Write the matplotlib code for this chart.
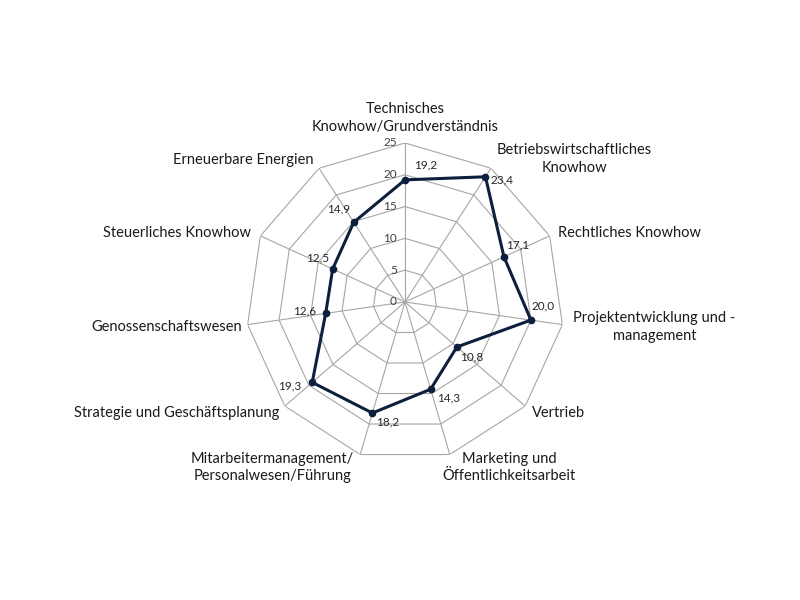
import numpy as np
import matplotlib.pyplot as plt

plt.rcParams['font.family'] = ['Lato', 'DejaVu Sans']

categories = ['Technisches\nKnowhow/Grundverständnis',
              'Betriebswirtschaftliches\nKnowhow',
              'Rechtliches Knowhow',
              'Projektentwicklung und -\nmanagement',
              'Vertrieb',
              'Marketing und\nÖffentlichkeitsarbeit',
              'Mitarbeitermanagement/\nPersonalwesen/Führung',
              'Strategie und Geschäftsplanung',
              'Genossenschaftswesen',
              'Steuerliches Knowhow',
              'Erneuerbare Energien']
values = [19.2, 23.4, 17.1, 20.0, 10.8, 14.3, 18.2, 19.3, 12.6, 12.5, 14.9]
ticks = [0, 5, 10, 15, 20, 25]

# label placement (offset in pixels from outer vertex / data point)
cat_offsets = [(0, 9), (6, 9), (8, 3), (11, -2), (7, -7), (-7, 3),
               (-6, 3), (-5, -7), (-6, -2), (-9, 3), (-6, 8)]
cat_ha = ['center', 'left', 'left', 'left', 'left', 'left',
          'right', 'right', 'right', 'right', 'right']
cat_va = ['bottom', 'center', 'center', 'center', 'center', 'top',
          'top', 'center', 'center', 'center', 'center']
val_offsets = [(9, 15), (5, -3), (2, 12), (1, 14), (3, -10), (6, -9),
               (4, -9), (-11, -4), (-9, 2), (-3, 11), (-4, 13)]
val_ha = ['left'] * 7 + ['right'] * 4

n = len(categories)
theta = np.arange(n) * 2 * np.pi / n

fig = plt.figure(figsize=(8, 6), dpi=100)
ax = fig.add_axes([0.50625 - 0.19875, 0.4967 - 0.265, 0.3975, 0.53], projection='polar')
ax.set_theta_zero_location('N')
ax.set_theta_direction(-1)
ax.set_ylim(0, 25)
ax.axis('off')

grid_c = '#a6a6a6'
th_closed = np.append(theta, theta[0])
for t in ticks[1:]:
    ax.plot(th_closed, [t] * (n + 1), color=grid_c, lw=0.8, zorder=1)
for th in theta:
    ax.plot([th, th], [0, ticks[-1]], color=grid_c, lw=0.8, zorder=1)

for t in ticks:
    ax.annotate(str(t), xy=(0, t), xytext=(-8, 0), textcoords='offset pixels',
                ha='right', va='center', fontsize=8.5, color='#404040')

vals_closed = np.append(values, values[0])
ax.plot(th_closed, vals_closed, color='#0e1f3d', lw=2.2, zorder=3)
ax.plot(theta, values, 'o', color='#0e1f3d', ms=4.5, zorder=4)

for i in range(n):
    ax.annotate(f'{values[i]:.1f}'.replace('.', ','), xy=(theta[i], values[i]),
                xytext=val_offsets[i], textcoords='offset pixels',
                ha=val_ha[i], va='center', fontsize=8.5, color='#262626')
    ax.annotate(categories[i], xy=(theta[i], ticks[-1]), xytext=cat_offsets[i],
                textcoords='offset pixels', ha=cat_ha[i], va=cat_va[i],
                multialignment='center', fontsize=10.5, linespacing=1.35,
                color='#1a1a1a', annotation_clip=False)

fig.savefig('out.png', dpi=100)
